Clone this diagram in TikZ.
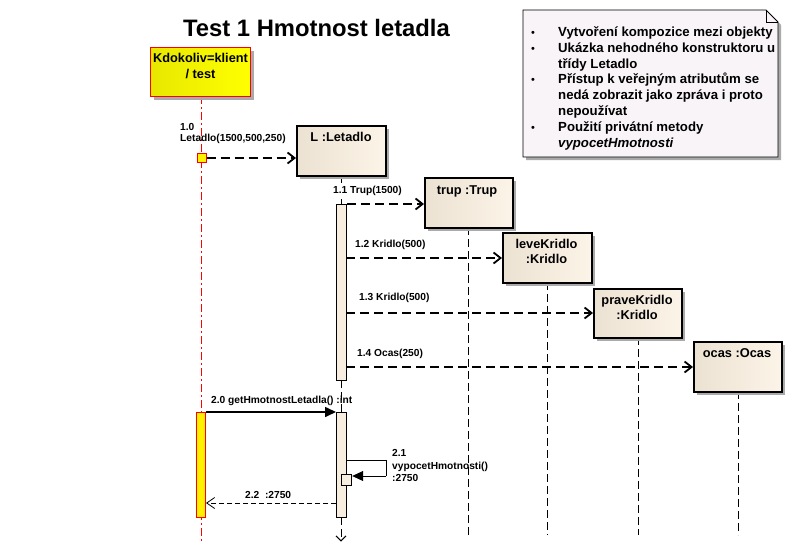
\documentclass[tikz,border=0pt]{standalone}
\usepackage{fontspec}
\setmainfont{Liberation Sans}
\usetikzlibrary{arrows.meta,shadows}
\definecolor{beigeL}{RGB}{236,226,210}
\definecolor{beigeR}{RGB}{252,244,232}
\definecolor{actfill}{RGB}{248,238,224}
\definecolor{notefill}{RGB}{248,244,248}
\definecolor{shadowc}{RGB}{170,170,170}
\tikzset{
  objbox/.style={draw=black, line width=1.6pt, left color=beigeL, right color=beigeR,
    anchor=north west, inner sep=0pt,
    drop shadow={shadow xshift=3pt, shadow yshift=-3pt, fill=shadowc, opacity=1}},
  clientbox/.style={draw=red, line width=1.2pt, left color={rgb,255:red,232;green,232;blue,0}, right color=yellow,
    anchor=north west, inner sep=0pt,
    drop shadow={shadow xshift=3pt, shadow yshift=-3pt, fill=shadowc, opacity=1}},
  objlabel/.style={font=\fontsize{12.8}{15}\selectfont\bfseries, inner sep=0pt, anchor=base},
  msglabel/.style={font=\fontsize{10.2}{12}\selectfont\bfseries, inner sep=0pt, anchor=base west},
  notelabel/.style={font=\fontsize{13.2}{15}\selectfont\bfseries, inner sep=0pt, anchor=base west},
  lifeline/.style={line width=0.9pt, dash pattern=on 8pt off 4pt},
  clientline/.style={red, line width=0.9pt, dash pattern=on 8pt off 3pt on 2pt off 3pt},
  call/.style={line width=1.8pt, dash pattern=on 9pt off 5pt, -{Straight Barb[length=7pt,width=11pt,line width=1.8pt]}},
  synccall/.style={line width=1.6pt, -{Triangle[length=11pt,width=10pt]}},
  retcall/.style={line width=0.8pt, dash pattern=on 5pt off 3pt, -{Straight Barb[length=8pt,width=11pt,line width=0.8pt]}},
  act/.style={draw=black, line width=1.2pt, fill=actfill, anchor=north west, inner sep=0pt},
  clientact/.style={draw=red, line width=1pt, fill=yellow, anchor=north west, inner sep=0pt},
}
\begin{document}
\begin{tikzpicture}[x=1pt,y=-1pt]
\useasboundingbox (0,0) rectangle (792,543);
\fill[white] (0,0) rectangle (792,543);

% title
\node[font=\fontsize{23.8}{28}\selectfont\bfseries, inner sep=0pt, anchor=base] (title) at (316.5,36.7) {Test 1 Hmotnost letadla};

% note
\fill[shadowc] (526,13) -- (769,13) -- (781,25) -- (781,160) -- (526,160) -- cycle;
\draw[fill=notefill, line width=0.8pt] (523,10) -- (766,10) -- (778,22) -- (778,157) -- (523,157) -- cycle;
\draw[line width=0.8pt] (766,10) -- (766,22) -- (778,22);
\foreach \n/\y in {b1/36.7, b2/52.4, b3/84, b4/131.2}
  \node[notelabel, font=\fontsize{11}{13}\selectfont, anchor=base] (\n) at (533,\y) {\textbullet};
\node[notelabel] (n1) at (558,36.7) {Vytvoření kompozice mezi objekty};
\node[notelabel] (n2) at (558,52.4) {Ukázka nehodného konstruktoru u};
\node[notelabel] (n2b) at (558,68.2) {třídy Letadlo};
\node[notelabel] (n3) at (558,84) {Přístup k veřejným atributům se};
\node[notelabel] (n3b) at (558,99.7) {nedá zobrazit jako zpráva i proto};
\node[notelabel] (n3c) at (558,115.5) {nepoužívat};
\node[notelabel] (n4) at (558,131.2) {Použití privátní metody};
\node[notelabel] (n4b) at (558,147) {\itshape vypocetHmotnosti};

% lifelines (drawn first)
\coordinate (cTop) at (201,96);
\coordinate (cBot) at (201,543);
\draw[clientline] (cTop) -- (cBot);

\coordinate (lTop) at (341,175);
\coordinate (lA) at (341,204);
\coordinate (lB) at (341,380);
\coordinate (lC) at (341,412);
\coordinate (lD) at (341,517);
\coordinate (lEnd) at (341,541.5);
\draw[lifeline] (lTop) -- (lA);
\draw[lifeline] (lB) -- (lC);
\draw[lifeline, -{Straight Barb[length=5pt,width=10pt,line width=0.9pt]}] (lD) -- (lEnd);

\coordinate (tTop) at (468,227);  \coordinate (tBot) at (468,535);
\coordinate (kTop) at (547,282);  \coordinate (kBot) at (547,535);
\coordinate (pTop) at (638,337);  \coordinate (pBot) at (638,535);
\coordinate (oTop) at (738,391);  \coordinate (oBot) at (738,535);
\draw[lifeline] (tTop) -- (tBot);
\draw[lifeline] (kTop) -- (kBot);
\draw[lifeline] (pTop) -- (pBot);
\draw[lifeline] (oTop) -- (oBot);

% client box
\node[clientbox, minimum width=100pt, minimum height=49pt] (C) at (150,47) {};
\node[objlabel] (Cl1) at (200.5,62.7) {Kdokoliv=klient};
\node[objlabel] (Cl2) at (200.5,78.3) {/ test};

% object boxes
\node[objbox, minimum width=89pt, minimum height=50pt] (L) at (296,125) {};
\node[objlabel] (Ll) at (341,141) {L :Letadlo};
\node[objbox, minimum width=88pt, minimum height=50pt] (T) at (424,177) {};
\node[objlabel] (Tl) at (467,194) {trup :Trup};
\node[objbox, minimum width=89pt, minimum height=50pt] (K) at (502,232) {};
\node[objlabel] (Kl1) at (546.5,248.5) {leveKridlo};
\node[objlabel] (Kl2) at (546.5,263.5) {:Kridlo};
\node[objbox, minimum width=88pt, minimum height=49pt] (P) at (593,288) {};
\node[objlabel] (Pl1) at (637,304.5) {praveKridlo};
\node[objlabel] (Pl2) at (637,319.5) {:Kridlo};
\node[objbox, minimum width=88pt, minimum height=50pt] (O) at (693,341) {};
\node[objlabel] (Ol) at (737,357.5) {ocas :Ocas};

% activations
\node[clientact, minimum width=9pt, minimum height=9pt] (ca1) at (196.5,153) {};
\node[act, minimum width=10pt, minimum height=176pt] (la1) at (336,204) {};
\node[clientact, minimum width=9pt, minimum height=105pt] (ca2) at (196,412) {};
\node[act, minimum width=10pt, minimum height=105pt] (la2) at (336,412) {};

% messages
\draw[call] (ca1.east) -- (L.west |- ca1.east);
\node[msglabel] (m10a) at (180,130.7) {1.0};
\node[msglabel] (m10b) at (180,141) {Letadlo(1500,500,250)};

\draw[call] (la1.north east) -- (T.west |- la1.north east);
\node[msglabel, fill=white, inner sep=1pt] (m11) at (332,193.5) {1.1 Trup(1500)};

\coordinate (s12) at (346,258);
\draw[call] (s12) -- (K.west |- s12);
\node[msglabel] (m12) at (355,247.7) {1.2 Kridlo(500)};

\coordinate (s13) at (346,313);
\draw[call] (s13) -- (P.west |- s13);
\node[msglabel] (m13) at (359,300.7) {1.3 Kridlo(500)};

\coordinate (s14) at (346,367);
\draw[call] (s14) -- (O.west |- s14);
\node[msglabel] (m14) at (357,356.7) {1.4 Ocas(250)};

\draw[synccall] (ca2.north east) -- (la2.north west);
\node[msglabel] (m20) at (211,403.3) {2.0 getHmotnostLetadla() :int};

% self call
\node[act, line width=1.2pt, minimum width=10pt, minimum height=11pt] (sa) at (341,474) {};
\coordinate (sc1) at (346,460.5);
\coordinate (sc2) at (386,460.5);
\coordinate (sc3) at (386,476);
\draw[line width=0.8pt] (sc1) -- (sc2) -- (sc3);
\draw[synccall, line width=0.8pt] (sc3) -- (sa.east |- sc3);
\node[msglabel] (m21a) at (392,456.5) {2.1};
\node[msglabel] (m21b) at (392,469) {vypocetHmotnosti()};
\node[msglabel] (m21c) at (392,481.5) {:2750};

% return
\coordinate (r22) at (336,503);
\draw[retcall] (r22) -- (ca2.east |- r22);
\node[msglabel] (m22) at (245,498.5) {2.2\ \ :2750};
\end{tikzpicture}
\end{document}
